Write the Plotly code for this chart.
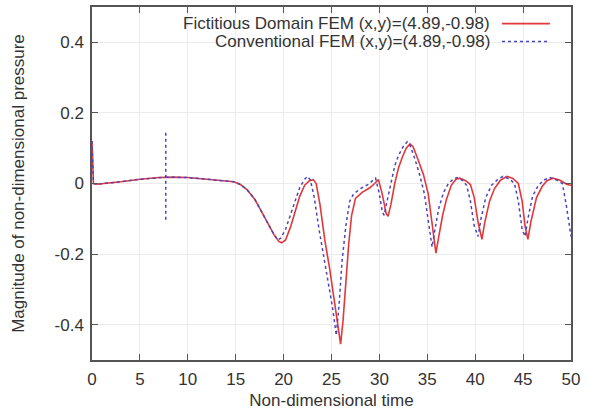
import plotly.graph_objects as go

# ---- data ----
fd_t = [0, 0.15, 0.5, 1.5, 3, 5, 7, 8.5, 10, 12, 14, 14.8, 15.5, 16.2, 17, 17.7, 18.4, 19.0, 19.5,
        19.8, 20.2, 20.7, 21.2, 21.7, 22.2, 22.7, 23.1, 23.4, 23.8, 24.3, 24.8, 25.3, 25.7, 25.95,
        26.2, 26.5, 26.8, 27.1, 27.5, 28.2, 29.0, 29.5, 29.9, 30.3, 30.7, 30.9, 31.2, 31.6, 32.0,
        32.4, 32.8, 33.2, 33.5, 34.0, 34.6, 35.1, 35.5, 35.9, 36.2, 36.6, 37.0, 37.5, 38.0, 38.4,
        39.0, 39.5, 39.9, 40.3, 40.7, 41.0, 41.5, 42.0, 42.6, 43.3, 43.9, 44.5, 44.9, 45.2, 45.5,
        45.8, 46.4, 47.0, 47.5, 48.1, 48.8, 49.6, 50.0]
fd_p = [0.12, 0.0, -0.002, 0.0, 0.005, 0.012, 0.017, 0.018, 0.017, 0.012, 0.008, 0.005, -0.003,
        -0.018, -0.045, -0.08, -0.115, -0.145, -0.164, -0.168, -0.16, -0.125, -0.08, -0.035,
        -0.005, 0.008, 0.011, 0.0, -0.06, -0.16, -0.24, -0.34, -0.42, -0.455, -0.39, -0.28, -0.17,
        -0.09, -0.042, -0.025, -0.012, 0.0, 0.011, -0.03, -0.085, -0.093, -0.06, 0.0, 0.045, 0.075,
        0.1, 0.112, 0.105, 0.07, 0.025, -0.03, -0.11, -0.197, -0.15, -0.09, -0.045, -0.005, 0.012,
        0.015, 0.008, -0.003, -0.04, -0.11, -0.158, -0.11, -0.05, -0.015, 0.008, 0.02, 0.015, 0.0,
        -0.05, -0.12, -0.158, -0.11, -0.04, -0.008, 0.008, 0.015, 0.01, -0.003, -0.005]

# None entries split the short vertical spike at t=7.7 into its own dotted stroke
cv_t = [0, 0.15, 0.5, 1.5, 3, 5, 7, 7.7, None, 7.7, 7.7, None, 7.7, 8.5, 10, 12, 14, 14.8, 15.5,
        16.2, 17, 17.7, 18.4, 19.0, 19.4, 19.7, 20.2, 20.7, 21.2, 21.7, 22.2, 22.5, 22.8, 23.2,
        23.7, 24.2, 24.7, 25.1, 25.5, 25.8, 26.1, 26.5, 26.9, 27.3, 28.0, 28.8, 29.6, 30.0, 30.3,
        30.5, 30.8, 31.2, 31.6, 32.0, 32.5, 32.9, 33.2, 33.7, 34.2, 34.7, 35.1, 35.5, 35.8, 36.2,
        36.7, 37.2, 37.7, 38.1, 38.7, 39.1, 39.5, 39.9, 40.3, 40.6, 41.1, 41.7, 42.3, 42.9, 43.6,
        44.1, 44.5, 44.9, 45.2, 45.5, 46.0, 46.6, 47.2, 47.8, 48.5, 49.1, 49.5, 50.0]
cv_p = [0.12, 0.0, -0.002, 0.0, 0.005, 0.012, 0.017, 0.018, None, 0.144, -0.107, None, 0.018,
        0.018, 0.017, 0.012, 0.008, 0.005, -0.003, -0.018, -0.045, -0.08, -0.115, -0.145, -0.16,
        -0.155, -0.13, -0.09, -0.045, -0.01, 0.012, 0.02, 0.01, -0.04, -0.13, -0.21, -0.28, -0.35,
        -0.43, -0.34, -0.22, -0.12, -0.05, -0.03, -0.015, -0.003, 0.015, -0.03, -0.08, -0.09,
        -0.05, 0.005, 0.05, 0.08, 0.105, 0.118, 0.108, 0.07, 0.025, -0.03, -0.1, -0.18, -0.13,
        -0.07, -0.025, 0.0, 0.012, 0.017, 0.008, -0.005, -0.05, -0.12, -0.15, -0.1, -0.04, -0.005,
        0.01, 0.02, 0.012, 0.0, -0.05, -0.13, -0.15, -0.1, -0.035, -0.005, 0.01, 0.017, 0.01, 0.0,
        -0.06, -0.15]

x_ticks = [0, 5, 10, 15, 20, 25, 30, 35, 40, 45, 50]
y_ticks = [-0.4, -0.2, 0, 0.2, 0.4]
y_tick_text = ["-0.4", "-0.2", "0", "0.2", "0.4"]

names = ["Fictitious Domain FEM (x,y)=(4.89,-0.98)", "Conventional FEM (x,y)=(4.89,-0.98)"]
RED = "#e2383a"
BLUE = "#4646c4"
TXT = "#333333"
FONT = "Liberation Sans, Arial, sans-serif"

fig = go.Figure()
fig.add_trace(go.Scatter(x=fd_t, y=fd_p, mode="lines", name=names[0],
                         line=dict(color=RED, width=1.6)))
fig.add_trace(go.Scatter(x=cv_t, y=cv_p, mode="lines", name=names[1], connectgaps=False,
                         line=dict(color=BLUE, width=1.5, dash="dot")))

axis_common = dict(showline=True, linecolor="#555555", linewidth=1.5, mirror="ticks",
                   ticks="inside", ticklen=6, tickcolor="#555555", tickwidth=1.2,
                   showgrid=True, gridcolor="#ececec", gridwidth=1, zeroline=False,
                   automargin=False,
                   tickfont=dict(family=FONT, size=17, color=TXT))

fig.update_xaxes(range=[0, 50], tickvals=x_ticks, ticklabelstandoff=3,
                 title=dict(text="Non-dimensional time", font=dict(family=FONT, size=17, color=TXT),
                            standoff=6),
                 **axis_common)
fig.update_yaxes(range=[-0.5, 0.5], tickvals=y_ticks, ticktext=y_tick_text, ticklabelstandoff=3,
                 title=dict(text="Magnitude of non-dimensional pressure",
                            font=dict(family=FONT, size=17, color=TXT), standoff=26),
                 **axis_common)

# gnuplot-style key: text right-aligned, line sample to the right
key_rows = [(0.953, RED, "solid", 1.6), (0.902, BLUE, "dot", 1.5)]
for (yy, col, dash, w), label in zip(key_rows, names):
    fig.add_annotation(x=0.835, y=yy, xref="paper", yref="paper", text=label, showarrow=False,
                       xanchor="right", yanchor="middle",
                       font=dict(family=FONT, size=17, color=TXT))
    fig.add_shape(type="line", xref="paper", yref="paper", x0=0.856, x1=0.956, y0=yy, y1=yy,
                  line=dict(color=col, width=w, dash=dash))

fig.update_layout(width=590, height=416, showlegend=False,
                  margin=dict(l=92, r=19, t=7, b=56),
                  plot_bgcolor="white", paper_bgcolor="white",
                  font=dict(family=FONT, color=TXT))

fig.write_html("out.html", config={"displayModeBar": False},
               post_script="document.body.style.margin='0';document.body.style.overflow='hidden';")
